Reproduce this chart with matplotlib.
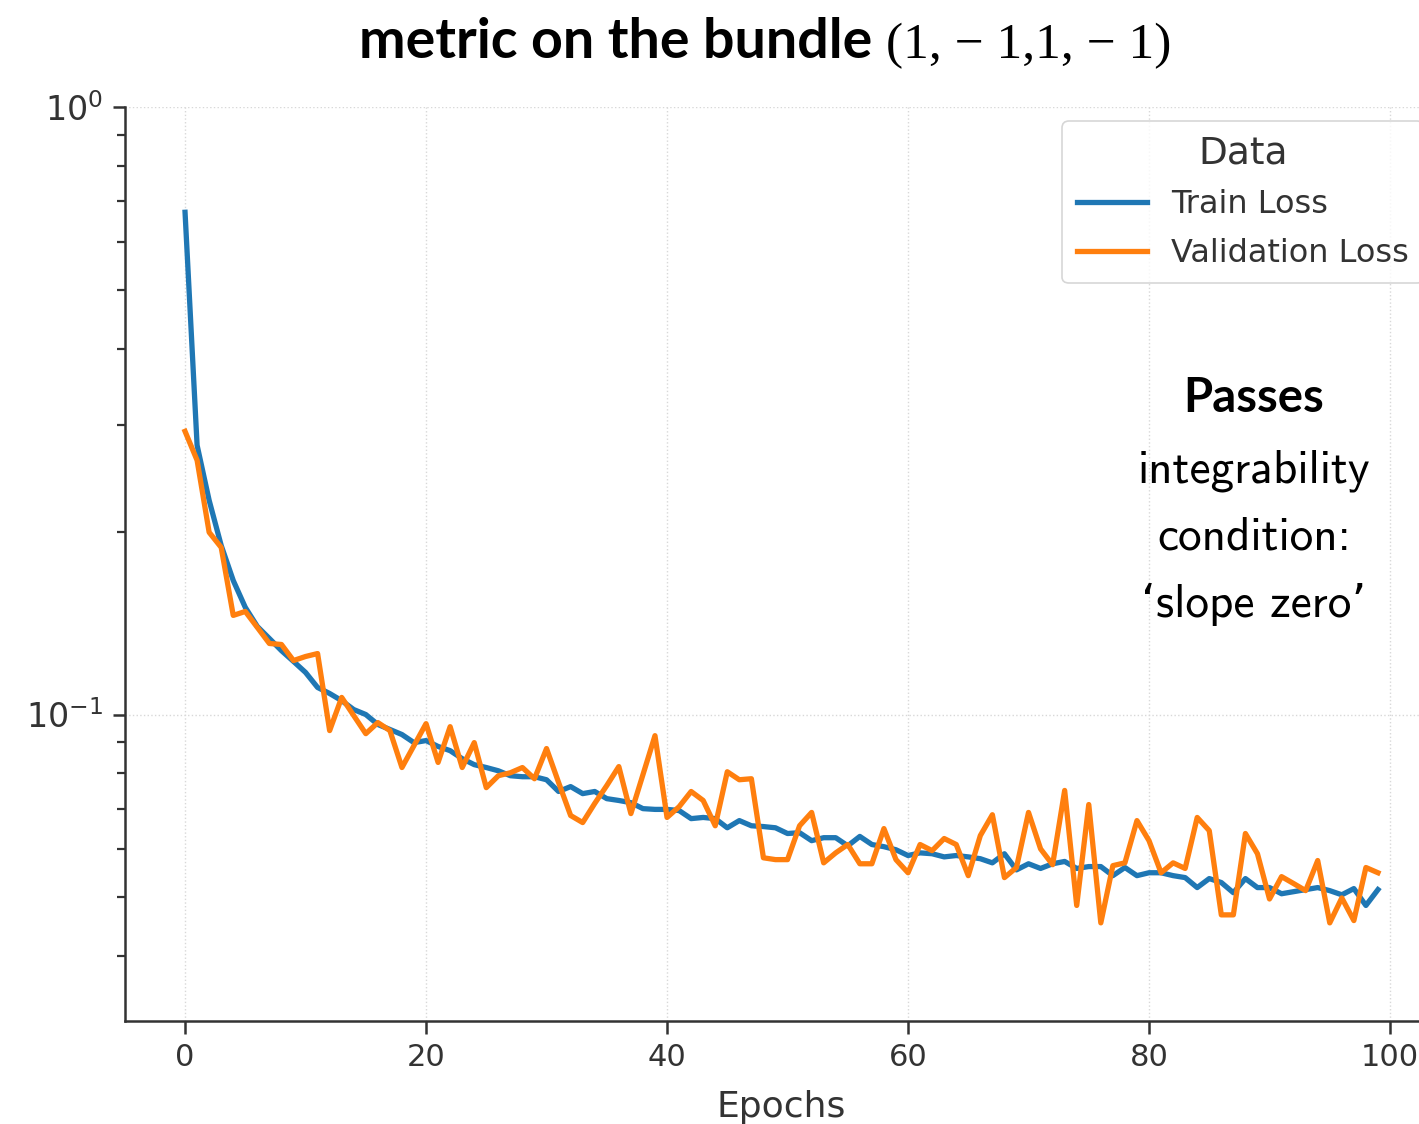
import numpy as np
import matplotlib
matplotlib.use("Agg")
import matplotlib.pyplot as plt
from matplotlib.ticker import LogLocator, NullFormatter

# values (log scale, epochs 0..99)
epochs = np.arange(100)

train_loss = [
    0.671, 0.2775, 0.2252, 0.1898, 0.1662, 0.1501, 0.1396, 0.1334, 0.1274, 0.1223,
    0.1173, 0.1108, 0.1083, 0.1054, 0.1019, 0.1000, 0.0963, 0.0945, 0.0927, 0.0899,
    0.0906, 0.0886, 0.0872, 0.0846, 0.0827, 0.0818, 0.0808, 0.0793, 0.0790, 0.0790,
    0.0781, 0.0747, 0.0761, 0.0741, 0.0747, 0.0727, 0.0722, 0.0716, 0.0700, 0.0698,
    0.0698, 0.0695, 0.0674, 0.0677, 0.0674, 0.0651, 0.0669, 0.0656, 0.0654, 0.0651,
    0.0637, 0.0639, 0.0620, 0.0627, 0.0627, 0.0608, 0.0630, 0.0611, 0.0606, 0.0599,
    0.0586, 0.0592, 0.0590, 0.0583, 0.0586, 0.0583, 0.0579, 0.0570, 0.0590, 0.0555,
    0.0568, 0.0558, 0.0568, 0.0573, 0.0558, 0.0562, 0.0562, 0.0543, 0.0560, 0.0543,
    0.0549, 0.0549, 0.0543, 0.0539, 0.0519, 0.0537, 0.0529, 0.0509, 0.0537, 0.0519,
    0.0519, 0.0507, 0.0511, 0.0515, 0.0519, 0.0513, 0.0505, 0.0517, 0.0485, 0.0515,
]

val_loss = [
    0.2925, 0.2621, 0.1995, 0.1884, 0.1456, 0.1478, 0.1391, 0.1309, 0.1304, 0.1227,
    0.1246, 0.1260, 0.0941, 0.1067, 0.0996, 0.0930, 0.0970, 0.0941, 0.0818, 0.0889,
    0.0966, 0.0834, 0.0955, 0.0818, 0.0899, 0.0758, 0.0793, 0.0802, 0.0818, 0.0784,
    0.0879, 0.0773, 0.0682, 0.0664, 0.0714, 0.0764, 0.0821, 0.0687, 0.0796, 0.0923,
    0.0677, 0.0705, 0.0747, 0.0722, 0.0656, 0.0805, 0.0781, 0.0784, 0.0581, 0.0577,
    0.0577, 0.0656, 0.0690, 0.0570, 0.0592, 0.0611, 0.0568, 0.0568, 0.0649, 0.0577,
    0.0549, 0.0611, 0.0597, 0.0625, 0.0611, 0.0543, 0.0632, 0.0684, 0.0539, 0.0560,
    0.0690, 0.0601, 0.0566, 0.0750, 0.0485, 0.0711, 0.0454, 0.0564, 0.0570, 0.0669,
    0.0620, 0.0549, 0.0570, 0.0558, 0.0677, 0.0644, 0.0468, 0.0468, 0.0637, 0.0590,
    0.0497, 0.0541, 0.0527, 0.0513, 0.0575, 0.0454, 0.0499, 0.0458, 0.0560, 0.0549,
]

series_names = ["Train Loss", "Validation Loss"]
note_lines = ["integrability", "condition:", "\u2018slope zero\u2019"]

W, H = 1419, 1124
fig = plt.figure(figsize=(W / 100, H / 100), dpi=100)
# axes runs past the right edge like the cropped original
ax = fig.add_axes([125.4 / W, 1 - 1021 / H, 1312.2 / W, 914 / H])

ax.plot(epochs, train_loss, color="#1f77b4", lw=3.8, label=series_names[0])
ax.plot(epochs, val_loss, color="#ff7f0e", lw=3.8, label=series_names[1])

ax.set_yscale("log")
ax.set_ylim(0.0313, 1.0)
ax.set_xlim(-4.95, 103.95)
ax.set_xticks([0, 20, 40, 60, 80, 100])
ax.yaxis.set_minor_locator(LogLocator(base=10, subs=np.arange(2, 10)))
ax.yaxis.set_minor_formatter(NullFormatter())

for side in ["top", "right"]:
    ax.spines[side].set_visible(False)
for side in ["left", "bottom"]:
    ax.spines[side].set_color("#333333")
    ax.spines[side].set_linewidth(1.8)

ax.tick_params(which="major", length=9, width=1.8, color="#333333",
               labelcolor="#333333", pad=7)
ax.tick_params(axis="x", which="major", labelsize=22)
ax.tick_params(axis="y", which="major", labelsize=24)
ax.tick_params(which="minor", length=5.5, width=1.6, color="#333333")
ax.grid(True, which="major", ls=":", lw=1.0, color="#d8d8d8")

ax.set_xlabel("Epochs", fontsize=26, color="#333333", labelpad=13)

leg = ax.legend(title="Data", loc="upper right", fontsize=23, title_fontsize=27,
                handlelength=2.2, handletextpad=0.75, frameon=True, fancybox=True,
                borderaxespad=0.45, borderpad=0.45, labelspacing=0.55)
leg.get_frame().set_edgecolor("#cccccc")
leg.get_frame().set_linewidth(1.2)
for t in leg.get_texts():
    t.set_color("#333333")
leg.get_title().set_color("#333333")

# title: bold words plus the signature in a serif face
fig.text(872 / W, 1 - 58 / H, "metric on the bundle", ha="right", va="baseline",
         fontsize=40, fontweight="bold", family=["Lato", "DejaVu Sans"])
fig.text(886 / W, 1 - 58 / H, "(1, \u2212 1,1, \u2212 1)", ha="left", va="baseline",
         fontsize=37, family=["Liberation Serif", "DejaVu Serif"])

# side note
fig.text(1254 / W, 1 - 412 / H, "Passes", ha="center", va="baseline",
         fontsize=34, fontweight="bold", family=["Lato", "DejaVu Sans"])
for i, line in enumerate(note_lines):
    fig.text(1254 / W, 1 - (482 + 67.5 * i) / H, line, ha="center", va="baseline",
             fontsize=34, family=["cmss10", "DejaVu Sans"])

fig.savefig("out.png", dpi=100)
